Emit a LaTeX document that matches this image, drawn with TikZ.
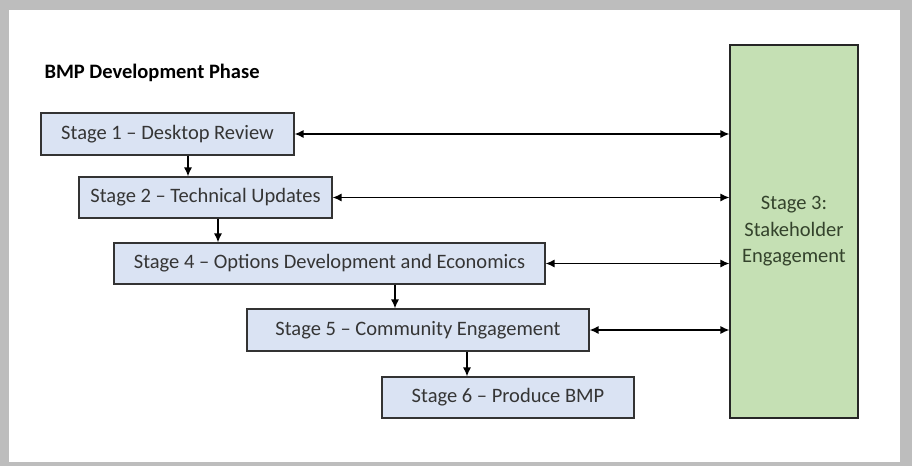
\documentclass[tikz,border=0pt]{standalone}
\usepackage{fontspec}
\setmainfont{Carlito}
\usepackage{tikz}
\usetikzlibrary{arrows.meta}

\definecolor{stageblue}{HTML}{DAE3F3}
\definecolor{stagegreen}{HTML}{C5E0B4}
\definecolor{framegray}{HTML}{BDBDBD}
\definecolor{textgray}{HTML}{353535}
\definecolor{greentext}{HTML}{34432C}

\tikzset{stagebox/.style={draw=black!80,line width=1.1bp,fill=stageblue,inner sep=0pt,
    text=textgray,font=\fontsize{20.5bp}{24bp}\selectfont},
  link/.style={{Latex[length=9bp,width=8bp]}-{Latex[length=9bp,width=8bp]},line width=1.4bp},
  down/.style={-{Latex[length=9bp,width=8bp]},line width=1.4bp}}

\begin{document}
\begin{tikzpicture}[scale=1]
% frame
\fill [framegray] (0bp,0bp) rectangle (912bp,466bp);
\fill [white] (9bp,4bp) rectangle (900bp,456bp);
\useasboundingbox (0bp,0bp) rectangle (912bp,466bp);

\node (T) at (41bp,393bp) [anchor=west,font=\bfseries\fontsize{20.5bp}{24bp}\selectfont] {BMP Development Phase};
\node (S1) at (167.5bp,332bp) [stagebox,minimum width=253bp,minimum height=42bp] {Stage 1 -- Desktop Review};
\node (S2) at (205.5bp,268.5bp) [stagebox,minimum width=253bp,minimum height=41bp] {Stage 2 -- Technical Updates};
\node (S4) at (329.5bp,202.5bp) [stagebox,minimum width=431bp,minimum height=41bp] {Stage 4 -- Options Development\ and Economics};
\node (S5) at (418bp,136bp) [stagebox,minimum width=342bp,minimum height=42bp] {Stage 5 -- Community\ Engagement};
\node (S6) at (508bp,68.5bp) [stagebox,minimum width=252bp,minimum height=41bp] {Stage 6 -- Produce\ BMP};
\node (S3) at (794bp,234.5bp) [draw=black!85,line width=1.1bp,fill=stagegreen,minimum width=128bp,minimum height=373bp,
  text=greentext,align=center,font=\fontsize{20.5bp}{26.5bp}\selectfont] {Stage 3:\\Stakeholder\\Engagement};

\draw [down] ([xshift=20.5bp]S1.south) -- ([xshift=20.5bp]S1.south |- S2.north);
\draw [down] ([xshift=12.5bp]S2.south) -- ([xshift=12.5bp]S2.south |- S4.north);
\draw [down] ([xshift=65.5bp]S4.south) -- ([xshift=65.5bp]S4.south |- S5.north);
\draw [down] ([xshift=49bp]S5.south) -- ([xshift=49bp]S5.south |- S6.north);

\draw [link] (S1.east) -- (S1.east -| S3.west);
\draw [link] (S2.east) -- (S2.east -| S3.west);
\draw [link] (S4.east) -- (S4.east -| S3.west);
\draw [link] (S5.east) -- (S5.east -| S3.west);
\end{tikzpicture}
\end{document}
